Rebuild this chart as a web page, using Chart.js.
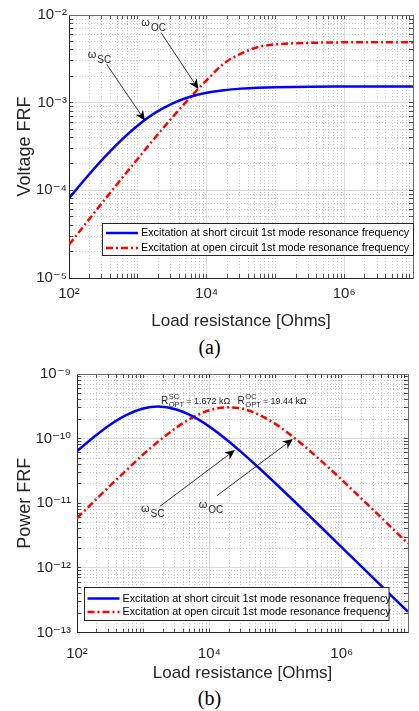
<!DOCTYPE html>
<html>
<head>
<meta charset="utf-8">
<script src="https://cdn.jsdelivr.net/npm/chart.js@4.4.0/dist/chart.umd.min.js"></script>
<style>
  html, body { margin: 0; padding: 0; background: #fff; overflow: hidden; }
  #page { position: relative; width: 419px; height: 711px; overflow: hidden; }
  canvas { position: absolute; left: 0; }
  #chartA { top: 0; }
  #chartB { top: 355px; }
  .cap { position: absolute; left: 0; width: 419px; text-align: center; font-family: "Liberation Serif", "Times New Roman", serif; font-size: 20px; line-height: 22px; color: #000; }
</style>
</head>
<body>
<div id="page">
  <canvas id="chartA" width="424" height="335"></canvas>
  <div class="cap" style="top:336px">(a)</div>
  <canvas id="chartB" width="424" height="330"></canvas>
  <div class="cap" style="top:687px">(b)</div>
</div>
<script>
// ---- data ----
const seriesNames = ['Excitation at short circuit 1st mode resonance frequency',
                     'Excitation at open circuit 1st mode resonance frequency'];

// (a) voltage FRF
const resistanceA = [100, 178, 316, 562, 1000, 1778, 3162, 5623, 10000, 17783, 31623, 56234, 100000, 316228, 1000000, 3162278, 10000000];
const voltageSC = [8.13e-5, 1.39e-4, 2.31e-4, 3.67e-4, 5.50e-4, 7.64e-4, 9.78e-4, 1.161e-3, 1.297e-3, 1.389e-3, 1.446e-3, 1.480e-3, 1.500e-3, 1.519e-3, 1.525e-3, 1.527e-3, 1.527e-3];
const voltageOC = [2.40e-5, 4.25e-5, 7.50e-5, 1.318e-4, 2.29e-4, 3.98e-4, 6.76e-4, 1.122e-3, 1.80e-3, 2.79e-3, 3.63e-3, 4.32e-3, 4.62e-3, 4.81e-3, 4.88e-3, 4.90e-3, 4.90e-3];

// (b) power FRF
const resistanceB = [100, 178, 316, 562, 1000, 1672, 3162, 5623, 10000, 19440, 31623, 56234, 100000, 177828, 316228, 562341, 1000000, 3162278, 10000000];
const powerSC = [6.4e-11, 1.05e-10, 1.64e-10, 2.33e-10, 2.92e-10, 3.13e-10, 2.83e-10, 2.21e-10, 1.535e-10, 9.12e-11, 5.96e-11, 3.51e-11, 2.02e-11, 1.153e-11, 6.55e-12, 3.69e-12, 2.08e-12, 6.60e-13, 2.09e-13];
const powerOC = [5.9e-12, 1.05e-11, 1.87e-11, 3.27e-11, 5.70e-11, 8.94e-11, 1.476e-10, 2.136e-10, 2.75e-10, 3.05e-10, 2.89e-10, 2.34e-10, 1.674e-10, 1.091e-10, 6.70e-11, 3.97e-11, 2.30e-11, 7.45e-12, 2.38e-12];

// tick labels
const xTickValues = [1e2, 1e4, 1e6];
const xTickLabels = ['10²', '10⁴', '10⁶'];
const voltageTickValues = [1e-5, 1e-4, 1e-3, 1e-2];
const voltageTickLabels = ['10⁻⁵', '10⁻⁴', '10⁻³', '10⁻²'];
const powerTickValues = [1e-13, 1e-12, 1e-11, 1e-10, 1e-9];
const powerTickLabels = ['10⁻¹³', '10⁻¹²', '10⁻¹¹', '10⁻¹⁰', '10⁻⁹'];

const AXIS = '#262626';
const MAJOR_GRID = '#dcdcdc';
const MINOR_GRID = '#c8c8c8';
const FONT = '"Liberation Sans", Arial, "DejaVu Sans", sans-serif';

function sameLog(a, b) { return Math.abs(Math.log10(a / b)) < 1e-6; }
function labelFor(values, labels, v) {
  for (let i = 0; i < values.length; i++) if (sameLog(values[i], v)) return labels[i];
  return '';
}
// matlab style log ticks: 1..9 x 10^n
function logTicks(min, max) {
  const out = [];
  for (let e = Math.round(Math.log10(min)); e <= Math.round(Math.log10(max)); e++) {
    for (let m = 1; m <= 9; m++) {
      const v = parseFloat((m * Math.pow(10, e)).toPrecision(2));
      if (v > max * 1.0001) break;
      out.push({ value: v });
    }
  }
  return out;
}

function axis(p) {
  const horiz = p.position === 'top' || p.position === 'bottom';
  const major = v => p.majors.some(m => sameLog(m, v));
  return {
    type: 'logarithmic',
    position: p.position,
    min: p.min,
    max: p.max,
    afterBuildTicks: s => { s.ticks = logTicks(p.min, p.max); },
    afterFit: s => { if (horiz) s.height = p.size; else s.width = p.size; },
    grid: {
      drawOnChartArea: !!p.main,
      color: c => (c.tick && major(c.tick.value)) ? MAJOR_GRID : MINOR_GRID,
      lineWidth: 1,
      drawTicks: true,
      tickLength: -4,
      tickColor: AXIS,
      tickWidth: 0.8
    },
    border: {
      display: true,
      color: p.main ? AXIS : '#6a6a6a',
      width: 1,
      dash: c => (c.tick && major(c.tick.value)) ? [] : [1, 2]
    },
    ticks: {
      display: !!p.main,
      autoSkip: false,
      maxRotation: 0,
      padding: p.tickPad || 0,
      color: AXIS,
      font: { family: FONT, size: 15 },
      callback: v => p.main ? labelFor(p.tickValues, p.tickLabels, v) : ''
    },
    title: p.title ? {
      display: true,
      text: p.title,
      color: AXIS,
      font: { family: FONT, size: p.titleSize || 17 },
      padding: p.titlePad
    } : { display: false }
  };
}

// legend drawn inside the axes like matlab's
const boxLegend = {
  id: 'boxLegend',
  afterDraw(chart, args, o) {
    const { ctx, chartArea: a } = chart;
    const x = Math.round(a.left + o.dx) + 0.5, y = Math.round(a.bottom - o.dy) + 0.5;
    ctx.save();
    ctx.fillStyle = '#fff';
    ctx.fillRect(x, y, o.w, o.h);
    ctx.strokeStyle = AXIS;
    ctx.lineWidth = 1;
    ctx.strokeRect(x, y, o.w, o.h);
    ctx.font = o.fontSize + 'px ' + FONT;
    ctx.textBaseline = 'middle';
    chart.data.datasets.forEach((ds, i) => {
      const ry = y + o.rows[i];
      ctx.strokeStyle = ds.borderColor;
      ctx.lineWidth = ds.borderWidth;
      ctx.setLineDash(ds.borderDash || []);
      ctx.beginPath();
      ctx.moveTo(x + o.line[0], ry);
      ctx.lineTo(x + o.line[1], ry);
      ctx.stroke();
      ctx.setLineDash([]);
      ctx.fillStyle = '#000';
      ctx.fillText(ds.label, x + o.textX, ry + 0.5);
    });
    ctx.restore();
  }
};

function drawArrow(ctx, x0, y0, x1, y1) {
  const len = Math.hypot(x1 - x0, y1 - y0), ux = (x1 - x0) / len, uy = (y1 - y0) / len;
  const nx = -uy, ny = ux, hl = 10, hw = 4.5;
  const bx = x1 - ux * hl, by = y1 - uy * hl;
  const mx = x1 - ux * hl * 0.7, my = y1 - uy * hl * 0.7;
  ctx.strokeStyle = '#000';
  ctx.lineWidth = 0.8;
  ctx.beginPath();
  ctx.moveTo(x0, y0);
  ctx.lineTo(mx, my);
  ctx.stroke();
  ctx.fillStyle = '#000';
  ctx.beginPath();
  ctx.moveTo(x1, y1);
  ctx.lineTo(bx + nx * hw, by + ny * hw);
  ctx.lineTo(mx, my);
  ctx.lineTo(bx - nx * hw, by - ny * hw);
  ctx.closePath();
  ctx.fill();
}

// text and arrows, anchored in data coordinates
const notes = {
  id: 'notes',
  afterDatasetsDraw(chart, args, o) {
    const { ctx, scales: { x, y } } = chart;
    ctx.save();
    (o.arrows || []).forEach(a => {
      drawArrow(ctx, x.getPixelForValue(a.from[0]), y.getPixelForValue(a.from[1]),
                x.getPixelForValue(a.to[0]), y.getPixelForValue(a.to[1]));
    });
    ctx.fillStyle = AXIS;
    ctx.textBaseline = 'alphabetic';
    (o.labels || []).forEach(l => {
      let px = x.getPixelForValue(l.at[0]);
      const py = y.getPixelForValue(l.at[1]);
      l.parts.forEach(p => {
        ctx.font = p.size + 'px ' + FONT;
        if (p.sup !== undefined) {
          ctx.fillText(p.sup, px, py - 5);
          ctx.fillText(p.sub, px, py + 3);
          px += Math.max(ctx.measureText(p.sup).width, ctx.measureText(p.sub).width) + 2;
        } else {
          ctx.fillText(p.text, px, py + (p.dy || 0));
          px += ctx.measureText(p.text).width + (p.gap || 0);
        }
      });
    });
    ctx.restore();
  }
};

function lineSets(xs, sc, oc) {
  return [
    { label: seriesNames[0], data: xs.map((r, i) => ({ x: r, y: sc[i] })),
      borderColor: '#0000ff', borderWidth: 2.5, pointRadius: 0, cubicInterpolationMode: 'monotone' },
    { label: seriesNames[1], data: xs.map((r, i) => ({ x: r, y: oc[i] })),
      borderColor: '#ff0000', borderWidth: 2.5, borderDash: [7, 3, 2, 3], pointRadius: 0, cubicInterpolationMode: 'monotone' }
  ];
}

const omega = sub => [{ text: 'ω', size: 11, gap: 1 }, { text: sub, size: 10, dy: 5 }];

new Chart(document.getElementById('chartA'), {
  type: 'line',
  data: { datasets: lineSets(resistanceA, voltageSC, voltageOC) },
  options: {
    responsive: false, animation: false, devicePixelRatio: 1,
    layout: { padding: { top: 14, right: 2, left: 0, bottom: 0 } },
    scales: {
      x: axis({ position: 'bottom', main: true, min: 1e2, max: 1e7, size: 57, majors: xTickValues,
                tickValues: xTickValues, tickLabels: xTickLabels, tickPad: 11,
                title: 'Load resistance [Ohms]', titlePad: { top: 0, bottom: 3 } }),
      y: axis({ position: 'left', main: true, min: 1e-5, max: 1e-2, size: 69, majors: voltageTickValues,
                tickValues: voltageTickValues, tickLabels: voltageTickLabels, tickPad: 6,
                title: 'Voltage FRF', titleSize: 18, titlePad: { top: 14, bottom: 0 } }),
      xTop: axis({ position: 'top', min: 1e2, max: 1e7, size: 0, majors: xTickValues }),
      yRight: axis({ position: 'right', min: 1e-5, max: 1e-2, size: 0, majors: voltageTickValues })
    },
    plugins: {
      legend: { display: false },
      tooltip: { enabled: false },
      boxLegend: { dx: 32.5, dy: 55, w: 311, h: 32, rows: [9.5, 24.5], line: [3.5, 35.5], textX: 38.5, fontSize: 10.8 },
      notes: {
        arrows: [
          { from: [352, 2.75e-3], to: [1268, 6.25e-4] },
          { from: [2178, 6.29e-3], to: [7603, 1.43e-3] }
        ],
        labels: [
          { at: [187, 3.24e-3], parts: omega('SC') },
          { at: [1125, 7.5e-3], parts: omega('OC') }
        ]
      }
    }
  },
  plugins: [boxLegend, notes]
});

new Chart(document.getElementById('chartB'), {
  type: 'line',
  data: { datasets: lineSets(resistanceB, powerSC, powerOC) },
  options: {
    responsive: false, animation: false, devicePixelRatio: 1,
    layout: { padding: { top: 16.5, right: 5, left: 0, bottom: 0 } },
    scales: {
      x: axis({ position: 'bottom', main: true, min: 1e2, max: 1e7, size: 52.5, majors: xTickValues,
                tickValues: xTickValues, tickLabels: xTickLabels, tickPad: 16,
                title: 'Load resistance [Ohms]', titlePad: { top: 0, bottom: 1 } }),
      y: axis({ position: 'left', main: true, min: 1e-13, max: 1e-9, size: 77, majors: powerTickValues,
                tickValues: powerTickValues, tickLabels: powerTickLabels, tickPad: 10,
                title: 'Power FRF', titleSize: 18, titlePad: { top: 14, bottom: 0 } }),
      xTop: axis({ position: 'top', min: 1e2, max: 1e7, size: 0, majors: xTickValues }),
      yRight: axis({ position: 'right', min: 1e-13, max: 1e-9, size: 0, majors: powerTickValues })
    },
    plugins: {
      legend: { display: false },
      tooltip: { enabled: false },
      boxLegend: { dx: 7, dy: 45.5, w: 304.5, h: 33, rows: [11, 24.5], line: [3, 35], textX: 38, fontSize: 10.8 },
      notes: {
        arrows: [
          { from: [1797, 8.99e-12], to: [24270, 6.65e-11] },
          { from: [13030, 1.312e-11], to: [181970, 9.84e-11] }
        ],
        labels: [
          { at: [927, 7.28e-12], parts: omega('SC') },
          { at: [6887, 8.38e-12], parts: omega('OC') },
          { at: [1858, 3.47e-10], parts: [{ text: 'R', size: 10, gap: 0.5 }, { sup: 'SC', sub: 'OPT', size: 7.5 }, { text: '= 1.672 kΩ', size: 9 }] },
          { at: [26670, 3.47e-10], parts: [{ text: 'R', size: 10, gap: 0.5 }, { sup: 'OC', sub: 'OPT', size: 7.5 }, { text: '= 19.44 kΩ', size: 9 }] }
        ]
      }
    }
  },
  plugins: [boxLegend, notes]
});
</script>
</body>
</html>
